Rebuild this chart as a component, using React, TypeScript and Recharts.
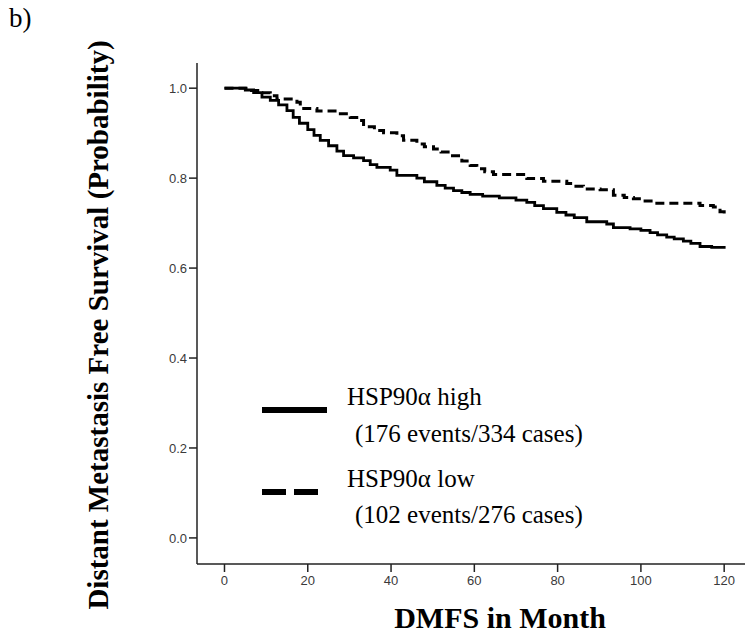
import { LineChart, Line, XAxis, YAxis, Legend } from 'recharts';

// Kaplan-Meier steps (month, survival probability)
const highMonths = [0, 5, 7, 9, 11, 13, 15, 16.5, 18, 20, 21.5, 23, 25, 27, 28.6, 31, 33.4, 35, 36.6, 39.8, 41.4, 46.2, 48, 51, 53, 55, 57, 59, 62, 66, 70, 72.6, 74.5, 76.6, 79.8, 82, 84, 87, 91.8, 93.4, 97.4, 100, 102.2, 104, 106.2, 108, 110.2, 112, 114.2, 117, 120];
const highSurvival = [1.0, 0.996, 0.99, 0.98, 0.973, 0.963, 0.95, 0.935, 0.922, 0.908, 0.895, 0.884, 0.872, 0.86, 0.85, 0.845, 0.839, 0.83, 0.824, 0.818, 0.806, 0.8, 0.792, 0.784, 0.778, 0.772, 0.768, 0.764, 0.76, 0.756, 0.751, 0.746, 0.739, 0.732, 0.724, 0.718, 0.712, 0.703, 0.698, 0.69, 0.687, 0.684, 0.679, 0.674, 0.669, 0.665, 0.66, 0.655, 0.648, 0.646, 0.643];

const lowMonths = [0, 6.5, 9, 11, 12.6, 17.4, 18.2, 22.2, 27, 30.2, 32.2, 33.4, 36, 38.2, 41.4, 43, 46.2, 48, 50.2, 52, 54.2, 57, 59, 60.6, 62.5, 64.6, 72.6, 76.6, 82.2, 84, 86.2, 90.2, 93.4, 96, 98.2, 100.5, 103, 114.2, 117.4, 119, 120];
const lowSurvival = [1.0, 0.995, 0.99, 0.983, 0.976, 0.969, 0.955, 0.949, 0.943, 0.935, 0.928, 0.914, 0.906, 0.901, 0.894, 0.884, 0.876, 0.87, 0.865, 0.858, 0.85, 0.838, 0.828, 0.821, 0.814, 0.808, 0.799, 0.793, 0.788, 0.782, 0.776, 0.774, 0.762, 0.757, 0.754, 0.749, 0.744, 0.739, 0.736, 0.725, 0.717];

const xTicks = [0, 20, 40, 60, 80, 100, 120];
const yTicks = [0, 0.2, 0.4, 0.6, 0.8, 1.0];

const legendHigh = ['HSP90α high', '(176 events/334 cases)'];
const legendLow = ['HSP90α low', '(102 events/276 cases)'];

const highData = highMonths.map((t, i) => ({ t, s: highSurvival[i] }));
const lowData = lowMonths.map((t, i) => ({ t, s: lowSurvival[i] }));

const serif = '"Liberation Serif", "Times New Roman", serif';
const sans = '"Liberation Sans", Arial, sans-serif';

const tickStyle = { fontSize: 13, fill: '#3a3a3a', fontFamily: sans };

function KmLegend() {
  return (
    <svg width={420} height={170} style={{ overflow: 'visible' }}>
      <line x1={12} x2={77} y1={35} y2={35} stroke="#000" strokeWidth={6} />
      <text x={97} y={30} fontFamily={serif} fontSize={25} fill="#000">{legendHigh[0]}</text>
      <text x={105} y={67} fontFamily={serif} fontSize={25} fill="#000">{legendHigh[1]}</text>
      <line x1={12} x2={68} y1={117} y2={117} stroke="#000" strokeWidth={6} strokeDasharray="24 8" />
      <text x={97} y={112} fontFamily={serif} fontSize={25} fill="#000">{legendLow[0]}</text>
      <text x={105} y={148} fontFamily={serif} fontSize={25} fill="#000">{legendLow[1]}</text>
    </svg>
  );
}

export default function App() {
  return (
    <div style={{ position: 'absolute', left: 0, top: 0, width: 745, height: 636, background: '#fff' }}>
      <div style={{ position: 'absolute', left: 9, top: 3, fontFamily: serif, fontSize: 27, color: '#000' }}>b)</div>
      <LineChart width={745} height={636} margin={{ top: 63, right: 0, bottom: 42, left: 0 }}>
        <XAxis
          dataKey="t"
          type="number"
          domain={[-6.6, 125]}
          ticks={xTicks}
          allowDataOverflow
          height={30}
          tickSize={8}
          tickMargin={4}
          tick={tickStyle}
          axisLine={{ stroke: '#222', strokeWidth: 1.5 }}
          tickLine={{ stroke: '#222', strokeWidth: 1.5 }}
          label={{
            content: () => (
              <text x={500} y={628} textAnchor="middle" fontFamily={serif} fontWeight="bold" fontSize={30} fill="#000">
                DMFS in Month
              </text>
            ),
          }}
        />
        <YAxis
          type="number"
          domain={[-0.058, 1.056]}
          ticks={yTicks}
          allowDataOverflow
          width={197}
          tickSize={8}
          tickMargin={2}
          tick={tickStyle}
          tickFormatter={(v: number) => v.toFixed(1)}
          axisLine={{ stroke: '#222', strokeWidth: 1.5 }}
          tickLine={{ stroke: '#222', strokeWidth: 1.5 }}
          label={{
            content: () => (
              <text
                x={108}
                y={325}
                transform="rotate(-90 108 325)"
                textAnchor="middle"
                fontFamily={serif}
                fontWeight="bold"
                fontSize={29}
                fill="#000"
              >
                Distant Metastasis Free Survival (Probability)
              </text>
            ),
          }}
        />
        <Line
          data={highData}
          dataKey="s"
          type="stepAfter"
          stroke="#000"
          strokeWidth={2.8}
          dot={false}
          isAnimationActive={false}
        />
        <Line
          data={lowData}
          dataKey="s"
          type="stepAfter"
          stroke="#000"
          strokeWidth={3}
          strokeDasharray="9 5"
          dot={false}
          isAnimationActive={false}
        />
        <Legend
          layout="vertical"
          verticalAlign="middle"
          align="center"
          content={() => <KmLegend />}
          wrapperStyle={{ left: 250, top: 375, width: 420, height: 170 }}
        />
      </LineChart>
    </div>
  );
}
